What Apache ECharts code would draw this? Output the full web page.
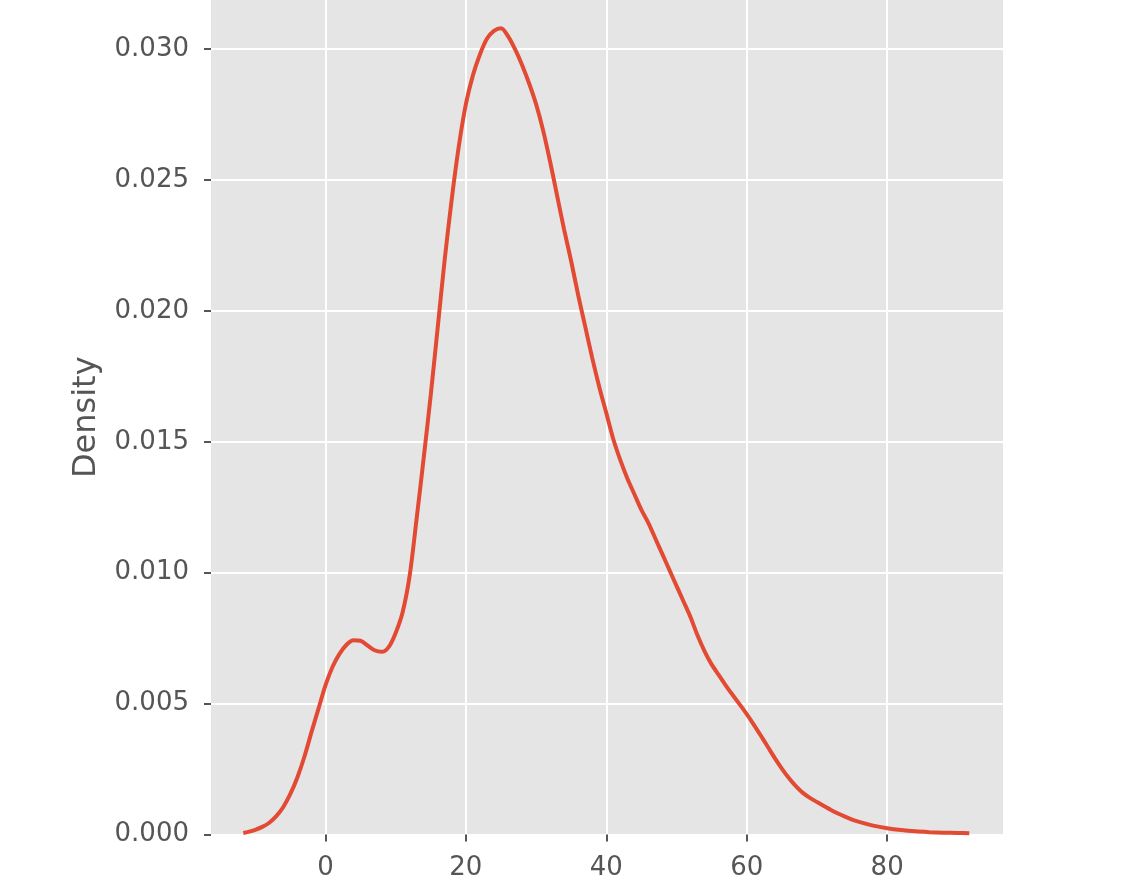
<!DOCTYPE html>
<html>
<head>
<meta charset="utf-8">
<script src="https://cdn.jsdelivr.net/npm/echarts@6/dist/echarts.min.js"></script>
<style>html,body{margin:0;padding:0;background:#fff}#c{width:1126px;height:888px}</style>
</head>
<body>
<div id="c"></div>
<script>
// KDE curve (x value, density)
const xValues = [-11.7, -11, -10, -9, -8, -7, -6, -5, -4, -3, -2, -1, 0, 1, 2, 3, 4, 5, 6, 7, 8, 9, 10, 11, 12, 13, 14, 15, 16, 17, 18, 19, 20, 21, 22, 23, 24, 25, 26, 27, 28, 29, 30, 31, 32, 33, 34, 35, 36, 37, 38, 39, 40, 41, 42, 43, 44, 45, 46, 47, 48, 49, 50, 51, 52, 53, 54, 55, 56, 57, 58, 59, 60, 61, 62, 63, 64, 65, 66, 67, 68, 69, 70, 71, 72, 73, 74, 75, 76, 78, 80, 82, 84, 86, 88, 90, 91.7];
const densityValues = [0.00006, 0.00010, 0.00018, 0.00029, 0.00045, 0.0007, 0.00105, 0.00155, 0.00218, 0.00297, 0.0039, 0.0048, 0.0057, 0.0064, 0.0069, 0.00725, 0.00742, 0.0074, 0.00722, 0.00704, 0.00698, 0.00716, 0.0077, 0.0085, 0.0099, 0.0121, 0.0144, 0.0168, 0.0194, 0.0220, 0.0243, 0.0263, 0.0279, 0.0290, 0.0298, 0.0304, 0.0307, 0.0308, 0.0305, 0.0300, 0.0294, 0.0287, 0.0279, 0.0269, 0.0257, 0.0244, 0.0231, 0.0219, 0.0206, 0.0194, 0.0182, 0.0171, 0.0161, 0.0151, 0.0143, 0.0136, 0.0130, 0.0124, 0.0119, 0.0113, 0.0107, 0.0101, 0.0095, 0.0089, 0.0083, 0.0076, 0.0070, 0.0065, 0.0061, 0.0057, 0.00533, 0.00497, 0.0046, 0.0042, 0.00378, 0.00335, 0.00292, 0.00252, 0.00216, 0.00185, 0.00159, 0.0014, 0.00124, 0.00109, 0.00094, 0.0008, 0.00068, 0.00057, 0.00048, 0.00034, 0.00024, 0.00017, 0.00012, 0.00009, 0.00007, 0.00006, 0.00005];
const xTicks = [0, 20, 40, 60, 80];
const yTicks = [0, 0.005, 0.010, 0.015, 0.020, 0.025, 0.030];
const yLabel = 'Density';

const chart = echarts.init(document.getElementById('c'), null, {renderer: 'canvas'});
const font = 'DejaVu Sans';
chart.setOption({
  animation: false,
  backgroundColor: '#ffffff',
  grid: {left: 211, right: 123, top: 0, bottom: 53.5, show: true, backgroundColor: '#E5E5E5', borderWidth: 0},
  xAxis: {
    type: 'value', min: -16.3, max: 96.5,
    axisLine: {show: false, onZero: false},
    axisTick: {show: true, customValues: xTicks, length: 7, lineStyle: {color: '#555555', width: 2}},
    axisLabel: {customValues: xTicks, color: '#555555', fontFamily: font, fontSize: 26, margin: 21},
    splitLine: {show: true, lineStyle: {color: '#ffffff', width: 2}}
  },
  yAxis: {
    type: 'value', min: 0, max: 0.03188,
    name: yLabel, nameLocation: 'middle', nameGap: 108,
    nameTextStyle: {color: '#555555', fontFamily: font, fontSize: 32},
    axisLine: {show: false, onZero: false},
    axisTick: {show: true, customValues: yTicks, length: 7, lineStyle: {color: '#555555', width: 2}},
    axisLabel: {customValues: yTicks, color: '#555555', fontFamily: font, fontSize: 26, margin: 22,
      formatter: v => v.toFixed(3)},
    splitLine: {show: true, lineStyle: {color: '#ffffff', width: 2}}
  },
  series: [{
    type: 'line',
    data: xValues.map((x, i) => [x, densityValues[i]]),
    smooth: 0.3,
    showSymbol: false,
    lineStyle: {color: '#E24A33', width: 4},
    itemStyle: {color: '#E24A33'}
  }]
});
</script>
</body>
</html>
